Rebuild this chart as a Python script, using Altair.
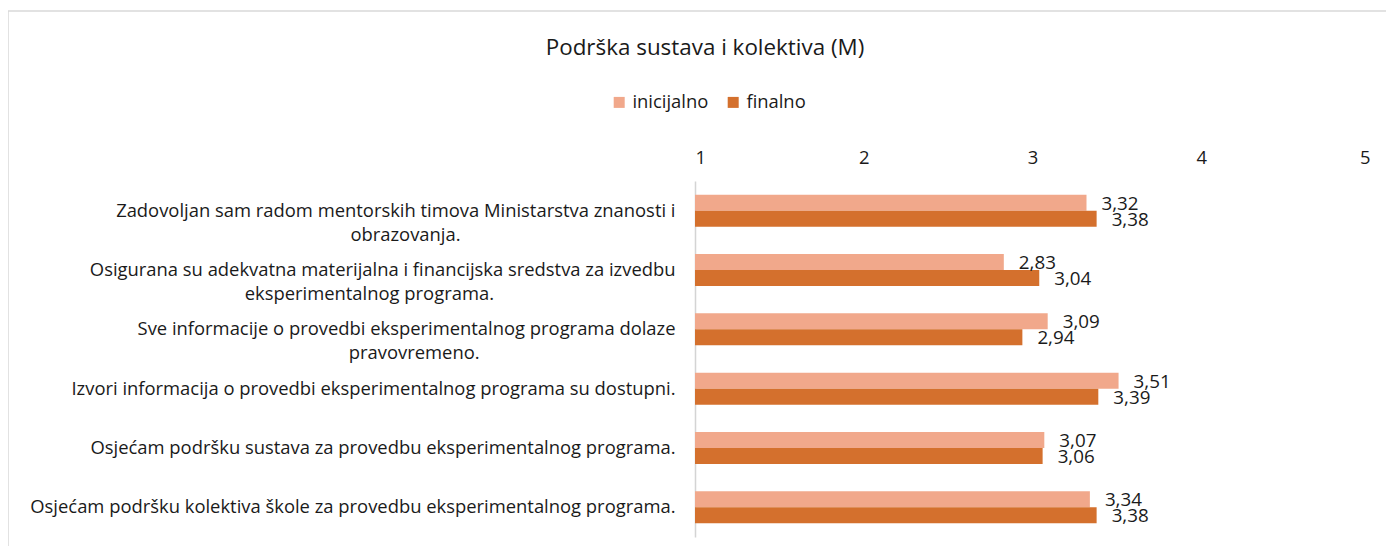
import altair as alt
import pandas as pd

title_text = "Podrška sustava i kolektiva (M)"
series = ["inicijalno", "finalno"]
colors = ["#F1A88B", "#D4702D"]
categories = [
    ["Zadovoljan sam radom mentorskih timova Ministarstva znanosti i", "obrazovanja."],
    ["Osigurana su adekvatna materijalna i financijska sredstva za izvedbu", "eksperimentalnog programa."],
    ["Sve informacije o provedbi eksperimentalnog programa dolaze", "pravovremeno."],
    ["Izvori informacija o provedbi eksperimentalnog programa su dostupni."],
    ["Osjećam podršku sustava za provedbu eksperimentalnog programa."],
    ["Osjećam podršku kolektiva škole za provedbu eksperimentalnog programa."],
]
inicijalno = [3.32, 2.83, 3.09, 3.51, 3.07, 3.34]
finalno = [3.38, 3.04, 2.94, 3.39, 3.06, 3.38]
x_ticks = [1, 2, 3, 4, 5]

FONT = "Open Sans"
NBSP = "\u00a0"


def make_label(lines):
    # centre the wrapped lines under the longest one (right-aligned block)
    if len(lines) == 1:
        return lines[0]
    longest = max(len(l) for l in lines)
    out = []
    for l in lines:
        pad = round((longest - len(l)) * 0.9)
        out.append(l + NBSP * pad + "\u2060")
    return "|".join(out)


labels = [make_label(c) for c in categories]
rows = []
for lab, a, b in zip(labels, inicijalno, finalno):
    for s, v in zip(series, [a, b]):
        rows.append({"label": lab, "series": s, "value": v,
                     "txt": f"{v:.2f}".replace(".", ",")})
df = pd.DataFrame(rows)

W, H = 675, 356
TXT = "#1a1a1a"

base = alt.Chart(df).encode(
    y=alt.Y("label:N", sort=labels,
            scale=alt.Scale(paddingInner=0.46, paddingOuter=0.23),
            axis=alt.Axis(title=None, ticks=False, domain=True,
                          domainColor="#d4d4d4", domainWidth=1.5,
                          labelExpr="split(datum.label, '|')",
                          labelFont=FONT, labelFontSize=18.4, labelColor=TXT,
                          labelPadding=20, labelLimit=0, labelLineHeight=24,
                          labelAlign="right")),
    yOffset=alt.YOffset("series:N", sort=series, scale=alt.Scale(paddingInner=0, paddingOuter=0)),
)

bars = base.mark_bar().encode(
    x=alt.X("value:Q", scale=alt.Scale(domain=[1, 5], nice=False, zero=False),
            axis=alt.Axis(orient="top", values=x_ticks, title=None, domain=False,
                          ticks=False, grid=False, labelFont=FONT, labelFontSize=18.4,
                          labelColor=TXT, labelPadding=14, format="d")),
    x2=alt.X2(datum=1),
    color=alt.Color("series:N", sort=series,
                    scale=alt.Scale(domain=series, range=colors),
                    legend=alt.Legend(title=None, orient="none", direction="horizontal",
                                      legendX=-85, legendY=-88, symbolType="square",
                                      symbolSize=121, symbolStrokeWidth=0,
                                      labelFont=FONT, labelFontSize=18.4,
                                      labelColor=TXT, labelOffset=4,
                                      columnPadding=15, padding=0)),
)

texts = base.mark_text(align="left", baseline="middle", dx=15, dy=1, font=FONT,
                       fontSize=18.8, color=TXT).encode(
    x="value:Q",
    text="txt:N",
)

title = alt.Chart(pd.DataFrame({"t": [title_text]})).mark_text(
    align="center", baseline="middle", font=FONT, fontSize=22.4, color=TXT
).encode(text="t:N", x=alt.value(10), y=alt.value(-133))

frame_df = pd.DataFrame({"k": [0]})
top_line = alt.Chart(frame_df).mark_rule(color="#d9d9d9", strokeWidth=1.5).encode(
    x=alt.value(-687), x2=alt.value(691), y=alt.value(-170))
left_line = alt.Chart(frame_df).mark_rule(color="#d9d9d9", strokeWidth=1.5).encode(
    x=alt.value(-687), y=alt.value(-170), y2=alt.value(H + 9))

chart = alt.layer(top_line, left_line, bars, texts, title).properties(
    width=W, height=H,
    autosize=alt.AutoSizeParams(type="none"),
    padding={"left": 687, "top": 173, "right": 16, "bottom": 9},
).configure(background="white", view=alt.ViewConfig(strokeWidth=0, stroke="transparent"))

chart.save("out.html", embed_options={"renderer": "svg", "actions": False})
